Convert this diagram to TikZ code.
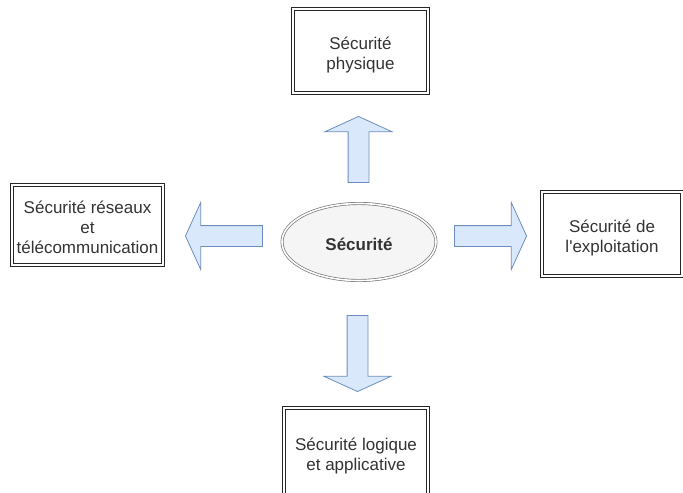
\documentclass[tikz,border=0pt]{standalone}
\usepackage{fontspec}
\setmainfont{Liberation Sans}
\usetikzlibrary{shapes.geometric, shapes.arrows}

\definecolor{arrowfill}{HTML}{DAE8FC}
\definecolor{arrowline}{HTML}{6C8EBF}
\definecolor{txtgray}{HTML}{333333}

% struts that push the text a little below the centre, as in the drawing
\newcommand{\tstrut}{\rule{0pt}{17pt}}

\begin{document}
\begin{tikzpicture}[
  x=0.75pt, y=-0.75pt,
  font=\fontsize{12.75}{15}\selectfont, text=txtgray,
  box/.style={draw=black!85, double, double distance=1.5pt, line width=0.6pt,
              fill=white, align=center, inner sep=0pt},
  centre/.style={ellipse, draw=black!55, double, double distance=1.2pt,
                 line width=0.5pt, fill=black!4, minimum width=115.5pt,
                 minimum height=57.75pt, font=\fontsize{12.75}{15}\selectfont\bfseries},
  flatarrow/.style={single arrow, draw=arrowline, fill=arrowfill, line width=0.6pt,
                    inner xsep=0pt, inner ysep=7.5pt, single arrow head extend=17.25pt,
                    single arrow tip angle=131}
]
  \useasboundingbox (0,0) rectangle (683,493);

  % centre
  \node[centre] (secu) at (359,242) {\tstrut Sécurité\strut};

  % the four domains
  \node[box, minimum width=101.25pt, minimum height=63pt] (phys) at (360.5,51)
    {\tstrut Sécurité\\physique\strut};
  \node[box, minimum width=113.25pt, minimum height=60pt] (reseau) at (87.5,225)
    {\tstrut Sécurité réseaux\\et\\télécommunication\strut};
  \node[box, minimum width=105pt, minimum height=63pt] (exploit) at (612,234)
    {\tstrut Sécurité de\\l\textquotesingle exploitation\strut};
  \node[box, minimum width=108pt, minimum height=66pt] (logique) at (356,452)
    {\tstrut Sécurité logique\\et applicative\strut};

  % block arrows
  \node[flatarrow, minimum height=49.5pt, rotate=90, anchor=tip] (arrup) at (358.5,116) {};
  \node[flatarrow, minimum height=57pt, rotate=-90, anchor=tip] (arrdown) at (357.5,392) {};
  \node[flatarrow, minimum height=57.75pt, rotate=180, anchor=tip] (arrleft) at (185,236) {};
  \node[flatarrow, minimum height=54pt, anchor=tip] (arrright) at (527,236) {};
\end{tikzpicture}
\end{document}
